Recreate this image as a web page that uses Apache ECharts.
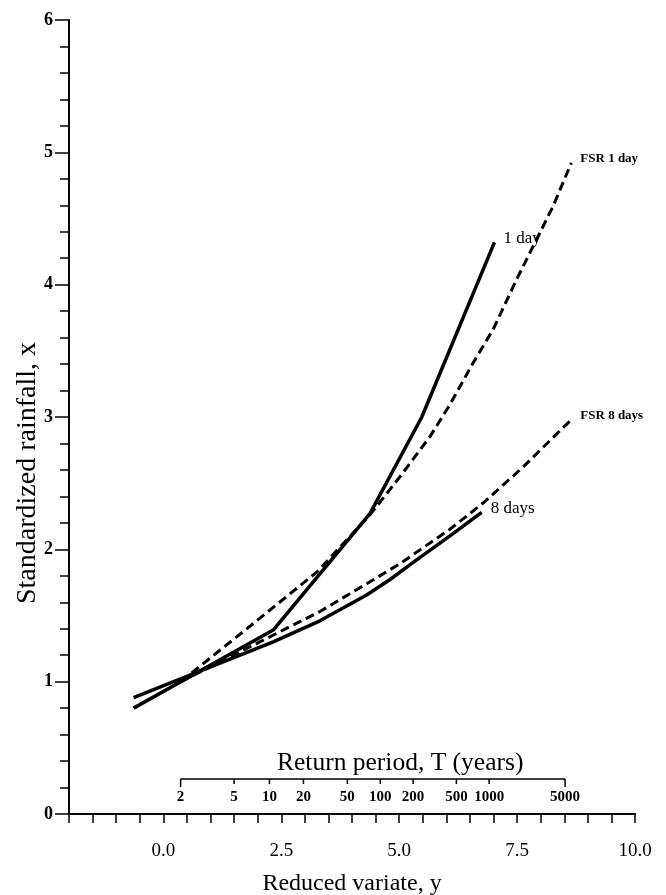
<!DOCTYPE html>
<html>
<head>
<meta charset="utf-8">
<script src="https://cdn.jsdelivr.net/npm/echarts@6/dist/echarts.min.js"></script>
<style>
html,body{margin:0;padding:0;background:#fff;}
#chart{width:666px;height:895px;}
</style>
</head>
<body>
<div id="chart"></div>
<script>
// ---- data ----
const oneDayX = [-0.63, 2.33, 4.38, 5.48, 7.02];
const oneDayY = [0.80, 1.39, 2.27, 3.00, 4.32];

const eightDayX = [-0.63, 2.33, 3.32, 4.31, 4.80, 5.37, 6.07, 6.75];
const eightDayY = [0.88, 1.30, 1.46, 1.655, 1.77, 1.92, 2.10, 2.28];

const fsr1X = [0.37, 1.91, 3.26, 4.38, 5.02, 5.65, 6.07, 6.57, 6.99, 7.49, 7.91, 8.26, 8.65];
const fsr1Y = [1.00, 1.44, 1.83, 2.26, 2.55, 2.85, 3.09, 3.41, 3.66, 4.04, 4.34, 4.59, 4.92];

const fsr8X = [0.37, 3.32, 4.31, 5.01, 6.07, 6.78, 7.62, 8.65];
const fsr8Y = [1.00, 1.53, 1.74, 1.89, 2.15, 2.35, 2.62, 2.98];

const returnPeriods = [2, 5, 10, 20, 50, 100, 200, 500, 1000, 5000];
const xTickLabels = [0, 2.5, 5, 7.5, 10];

// Gumbel reduced variate of a return period (secondary axis transform)
const gumbel = T => -Math.log(-Math.log(1 - 1 / T));
const zip = (xs, ys) => xs.map((x, i) => [x, ys[i]]);

const SERIF = '"Liberation Serif", "Times New Roman", serif';

const chart = echarts.init(document.getElementById('chart'), null, {renderer: 'canvas'});

const lineBase = (name, xs, ys, dashed, label, lblStyle) => ({
  name: name,
  type: 'line',
  data: zip(xs, ys),
  showSymbol: false,
  symbol: 'none',
  smooth: false,
  silent: true,
  lineStyle: {color: '#000', width: dashed ? 3 : 3.5, type: dashed ? [9, 5] : 'solid', cap: 'butt'},
  endLabel: Object.assign({
    show: true,
    formatter: label,
    color: '#000',
    fontFamily: SERIF,
    distance: 9,
    offset: [0, -4]
  }, lblStyle)
});

const RP_OFF = 35; // distance of return-period scale above the x axis (px)

const option = {
  backgroundColor: '#fff',
  animation: false,
  grid: {left: 69, right: 31, top: 20, bottom: 81, containLabel: false, outerBoundsMode: 'none'},
  xAxis: {
    type: 'value', min: -2, max: 10, interval: 0.5,
    axisLine: {show: true, onZero: false, lineStyle: {color: '#000', width: 2}},
    axisTick: {show: true, length: 9, lineStyle: {color: '#000', width: 1.5}},
    splitLine: {show: false},
    axisLabel: {
      color: '#000', fontFamily: SERIF, fontSize: 19, margin: 28,
      formatter: v => xTickLabels.indexOf(v) >= 0 ? v.toFixed(1) : ''
    },
    name: 'Reduced variate, y', nameLocation: 'middle', nameGap: 58,
    nameTextStyle: {color: '#000', fontFamily: SERIF, fontSize: 24}
  },
  yAxis: {
    type: 'value', min: 0, max: 6, interval: 1,
    axisLine: {show: true, onZero: false, lineStyle: {color: '#000', width: 2}},
    axisTick: {show: true, length: 14, lineStyle: {color: '#000', width: 1.5}},
    minorTick: {show: true, splitNumber: 5, length: 9, lineStyle: {color: '#000', width: 1.5}},
    splitLine: {show: false},
    minorSplitLine: {show: false},
    axisLabel: {color: '#000', fontFamily: SERIF, fontSize: 18, fontWeight: 'bold', margin: 16}
  },
  graphic: [
    {
      type: 'text', left: 14, top: 342, rotation: Math.PI / 2,
      style: {text: 'Standardized rainfall, x', fill: '#000', font: '28px ' + SERIF}
    },
    {
      type: 'text', left: 277, top: 750,
      style: {text: 'Return period, T (years)', fill: '#000', font: '25.5px ' + SERIF}
    }
  ],
  series: [
    lineBase('1 day', oneDayX, oneDayY, false, '1 day', {fontSize: 17}),
    lineBase('8 days', eightDayX, eightDayY, false, '8 days', {fontSize: 17}),
    lineBase('FSR 1 day', fsr1X, fsr1Y, true, 'FSR 1 day', {fontSize: 13, fontWeight: 'bold'}),
    lineBase('FSR 8 days', fsr8X, fsr8Y, true, 'FSR 8 days', {fontSize: 13, fontWeight: 'bold'}),
    {
      type: 'custom',
      name: 'Return period',
      silent: true,
      z: 5,
      data: returnPeriods.map(T => [gumbel(T), T]),
      renderItem: function (params, api) {
        const p = api.coord([api.value(0), 0]);
        const yLine = p[1] - RP_OFF;
        const isEnd = params.dataIndex === 0 || params.dataIndex === returnPeriods.length - 1;
        const children = [
          {type: 'line', shape: {x1: p[0], y1: yLine, x2: p[0], y2: yLine + (isEnd ? 8 : 5)},
           style: {stroke: '#000', lineWidth: 1.5}},
          {type: 'text', style: {text: String(api.value(1)), x: p[0], y: yLine + 18,
            align: 'center', verticalAlign: 'middle', textAlign: 'center', textVerticalAlign: 'middle',
            font: 'bold 15px ' + SERIF, fill: '#000'}}
        ];
        if (params.dataIndex === 0) {
          const q = api.coord([gumbel(returnPeriods[returnPeriods.length - 1]), 0]);
          children.push({type: 'line', shape: {x1: p[0], y1: yLine, x2: q[0], y2: yLine},
            style: {stroke: '#000', lineWidth: 1.5}});
        }
        return {type: 'group', children: children};
      }
    }
  ]
};

chart.setOption(option);
</script>
</body>
</html>
